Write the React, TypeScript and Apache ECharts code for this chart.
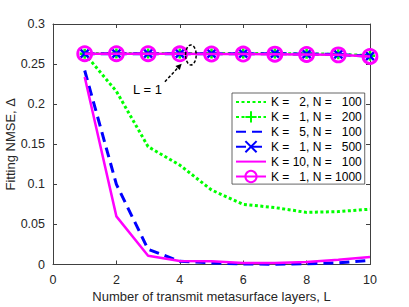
import React, { useEffect, useRef } from "react";
import * as echarts from "echarts";

const layers = [1, 2, 3, 4, 5, 6, 7, 8, 9, 10];
const kVals = [2, 1, 5, 1, 10, 1];
const nVals = [100, 200, 100, 500, 100, 1000];
const seriesK2N100 = [0.263, 0.216, 0.147, 0.124, 0.093, 0.075, 0.071, 0.065, 0.066, 0.069];
const seriesK1N200 = [0.263, 0.2632, 0.2632, 0.2632, 0.2632, 0.2632, 0.2632, 0.2628, 0.2622, 0.2605];
const seriesK5N100 = [0.242, 0.1, 0.019, 0.004, 0.002, 0.0006, 0.0004, 0.001, 0.002, 0.005];
const seriesK1N500 = [0.263, 0.263, 0.263, 0.263, 0.263, 0.263, 0.263, 0.2625, 0.262, 0.2598];
const seriesK10N100 = [0.234, 0.06, 0.011, 0.0045, 0.004, 0.002, 0.002, 0.003, 0.006, 0.0095];
const seriesK1N1000 = [0.263, 0.263, 0.263, 0.2628, 0.2626, 0.2625, 0.2624, 0.262, 0.2615, 0.2595];
const xTicks = { min: 0, max: 10, interval: 2 };
const yTicks = { min: 0, max: 0.3, interval: 0.05 };
const annotationText = "L = 1";
const annotationTextPos = [2.98, 0.218];
const arrowFrom = [3.53, 0.228];
const arrowTo = [4.06, 0.2505];
const ellipseCenter = [4.35, 0.2614];

const FONT = "'Liberation Sans', Arial, Helvetica, sans-serif";
const AXIS_COLOR = "#404040";
const TEXT_COLOR = "#262626";

const names = kVals.map((k, i) => `K = ${k}, N = ${nVals[i]}`);
const noSymbol = [true, false, true, false, true, false];

export default function App() {
  const ref = useRef<HTMLDivElement>(null);

  useEffect(() => {
    document.body.style.margin = "0";
    if (!ref.current) return;
    const chart = echarts.init(ref.current, undefined, { renderer: "svg" });
    const mk = (vals: number[]) => layers.map((l, i) => [l, vals[i]]);

    const axisCommon = {
      type: "value" as const,
      nameMoveOverlap: false,
      axisLine: { show: true, onZero: false, lineStyle: { color: AXIS_COLOR, width: 1 } },
      axisTick: { show: true, inside: true, length: 4, lineStyle: { color: AXIS_COLOR, width: 1 } },
      splitLine: { show: false },
    };

    const digitW = 6.67;
    const richBase = { fontSize: 12, fontFamily: FONT, color: "#000" };

    const option: any = {
      animation: false,
      backgroundColor: "#fff",
      grid: {
        left: 53,
        right: 39,
        top: 24,
        bottom: 42.5,
        containLabel: false,
        outerBoundsMode: "none",
      },
      xAxis: [
        {
          ...axisCommon,
          ...xTicks,
          position: "bottom",
          axisLabel: { fontSize: 12.5, color: TEXT_COLOR, fontFamily: FONT, margin: 9 },
          name: "Number of transmit metasurface layers, L",
          nameLocation: "middle",
          nameGap: 25,
          nameTextStyle: { fontSize: 13, color: TEXT_COLOR, fontFamily: FONT },
        },
        {
          ...axisCommon,
          ...xTicks,
          position: "top",
          axisLabel: { show: false },
        },
      ],
      yAxis: [
        {
          ...axisCommon,
          ...yTicks,
          position: "left",
          axisLabel: { fontSize: 12.5, color: TEXT_COLOR, fontFamily: FONT, margin: 8 },
          name: "Fitting NMSE, Δ",
          nameLocation: "middle",
          nameGap: 36,
          nameTextStyle: { fontSize: 13, color: TEXT_COLOR, fontFamily: FONT },
        },
        {
          ...axisCommon,
          ...yTicks,
          position: "right",
          axisLabel: { show: false },
        },
      ],
      legend: {
        orient: "vertical",
        left: 232,
        top: 93,
        itemWidth: 30,
        itemHeight: 14,
        itemGap: 2.3,
        padding: [3, 3, 1, 3],
        backgroundColor: "#fff",
        borderColor: AXIS_COLOR,
        borderWidth: 0.8,
        borderRadius: 0,
        data: names.map((n, i) =>
          noSymbol[i]
            ? { name: n, itemStyle: { color: "rgba(0,0,0,0)", borderColor: "rgba(0,0,0,0)", borderWidth: 0 } }
            : { name: n }
        ),
        formatter: (name: string) => {
          const i = names.indexOf(name);
          const kPad = 2 - String(kVals[i]).length;
          const nPad = 4 - String(nVals[i]).length;
          const kSp = kPad > 0 ? `{s${kPad}| }` : "";
          const nSp = nPad > 0 ? `{s${nPad}| }` : "";
          return `{a|K = }${kSp}{b|${kVals[i]}}{c|, N = }${nSp}{d|${nVals[i]}}`;
        },
        textStyle: {
          fontSize: 12,
          color: "#000",
          fontFamily: FONT,
          rich: {
            a: { ...richBase },
            b: { ...richBase },
            c: { ...richBase },
            d: { ...richBase },
            s1: { ...richBase, width: digitW },
            s2: { ...richBase, width: digitW * 2 },
            s3: { ...richBase, width: digitW * 3 },
          },
        },
      },
      series: [
        {
          name: names[0],
          type: "line",
          data: mk(seriesK2N100),
          symbol: "none",
          color: "#00ff00",
          lineStyle: { color: "#00ff00", width: 3, type: [3, 2.5] },
          z: 2,
        },
        {
          name: names[1],
          type: "line",
          data: mk(seriesK1N200),
          symbol: "path://M0,5 L10,5 M5,0 L5,10",
          symbolSize: 10,
          color: "#00ff00",
          itemStyle: { color: "#00ff00", borderColor: "#00ff00", borderWidth: 2.5 },
          lineStyle: { color: "#00ff00", width: 3, type: [3, 2.5] },
          z: 3,
        },
        {
          name: names[2],
          type: "line",
          data: mk(seriesK5N100),
          symbol: "none",
          color: "#0000ff",
          lineStyle: { color: "#0000ff", width: 3, type: [10, 6] },
          z: 4,
        },
        {
          name: names[3],
          type: "line",
          data: mk(seriesK1N500),
          symbol: "path://M0,0 L10,10 M10,0 L0,10",
          symbolSize: 8,
          color: "#0000ff",
          itemStyle: { color: "#0000ff", borderColor: "#0000ff", borderWidth: 2.5 },
          lineStyle: { color: "#0000ff", width: 3, type: [10, 6] },
          z: 5,
        },
        {
          name: names[4],
          type: "line",
          data: mk(seriesK10N100),
          symbol: "none",
          color: "#ff00ff",
          lineStyle: { color: "#ff00ff", width: 2.5, type: "solid" },
          z: 6,
        },
        {
          name: names[5],
          type: "line",
          data: mk(seriesK1N1000),
          symbol: "circle",
          symbolSize: 14,
          color: "#ff00ff",
          itemStyle: { color: "rgba(255,0,255,0)", borderColor: "#ff00ff", borderWidth: 2.8 },
          lineStyle: { color: "#ff00ff", width: 2.5, type: "solid" },
          z: 7,
        },
      ],
    };

    chart.setOption(option);

    const px = (p: number[]) => chart.convertToPixel({ gridIndex: 0 }, p) as number[];
    const c = px(ellipseCenter);
    const a0 = px(arrowFrom);
    const a1 = px(arrowTo);
    const t = px(annotationTextPos);
    const dx = a1[0] - a0[0];
    const dy = a1[1] - a0[1];
    const len = Math.sqrt(dx * dx + dy * dy);
    const ux = dx / len;
    const uy = dy / len;
    const headL = 6;
    const headW = 3;
    const bx = a1[0] - ux * headL;
    const by = a1[1] - uy * headL;

    chart.setOption({
      graphic: [
        {
          type: "ellipse",
          shape: { cx: c[0], cy: c[1], rx: 5.3, ry: 10 },
          style: { fill: "none", stroke: "#000", lineWidth: 1.5, lineDash: [3, 2] },
          z: 100,
        },
        {
          type: "line",
          shape: { x1: a0[0], y1: a0[1], x2: bx, y2: by },
          style: { stroke: "#000", lineWidth: 1.5, lineDash: [3, 2] },
          z: 100,
        },
        {
          type: "polygon",
          shape: {
            points: [
              [a1[0], a1[1]],
              [bx - uy * headW, by + ux * headW],
              [bx + uy * headW, by - ux * headW],
            ],
          },
          style: { fill: "#000" },
          z: 100,
        },
        {
          type: "text",
          x: t[0],
          y: t[1],
          style: {
            text: annotationText,
            fontSize: 13,
            fontFamily: FONT,
            fill: "#000",
            align: "center",
            verticalAlign: "middle",
          },
          z: 100,
        },
      ],
    });

    return () => chart.dispose();
  }, []);

  return <div ref={ref} style={{ width: 409, height: 307 }} />;
}
